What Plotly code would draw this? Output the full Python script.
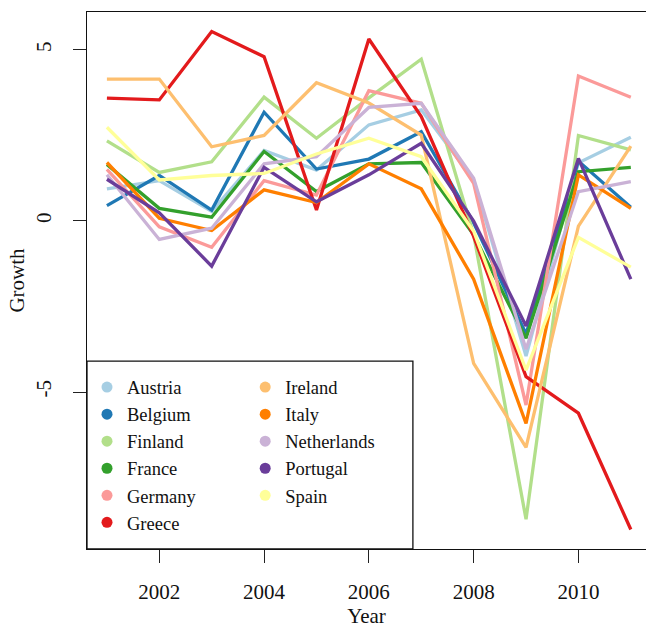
import plotly.graph_objects as go

years = list(range(2001, 2012))
countries = ["Austria", "Belgium", "Finland", "France", "Germany", "Greece",
             "Ireland", "Italy", "Netherlands", "Portugal", "Spain"]
colors = ["#A6CEE3", "#1F78B4", "#B2DF8A", "#33A02C", "#FB9A99", "#E31A1C",
          "#FDBF6F", "#FF7F00", "#CAB2D6", "#6A3D9A", "#FFFF99"]

austria = [0.94, 1.18, 0.28, 2.06, 1.49, 2.81, 3.25, 1.20, -3.95, 1.70, 2.45]
belgium = [0.45, 1.33, 0.32, 3.18, 1.52, 1.81, 2.61, -0.05, -3.30, 1.75, 0.40]
finland = [2.34, 1.42, 1.73, 3.62, 2.42, 3.60, 4.73, -0.40, -8.72, 2.50, 2.08]
france = [1.65, 0.37, 0.11, 2.03, 0.86, 1.67, 1.71, -0.40, -3.43, 1.44, 1.57]
germany = [1.51, -0.17, -0.77, 1.18, 0.76, 3.81, 3.44, 1.10, -5.38, 4.24, 3.62]
greece = [3.59, 3.54, 5.54, 4.80, 0.32, 5.32, 3.05, -0.45, -4.55, -5.62, -9.02]
ireland = [4.15, 4.15, 2.17, 2.50, 4.04, 3.45, 2.51, -4.16, -6.62, -0.15, 2.19]
italy = [1.71, 0.08, -0.28, 0.91, 0.54, 1.67, 0.94, -1.70, -5.92, 1.35, 0.37]
netherlands = [1.35, -0.54, -0.21, 1.67, 1.88, 3.32, 3.44, 1.25, -3.75, 0.86, 1.15]
portugal = [1.22, 0.24, -1.32, 1.57, 0.56, 1.35, 2.27, 0.00, -3.07, 1.83, -1.70]
spain = [2.74, 1.20, 1.33, 1.39, 1.96, 2.42, 1.88, -0.30, -4.36, -0.48, -1.35]

series = [austria, belgium, finland, france, germany, greece,
          ireland, italy, netherlands, portugal, spain]

x_ticks = [2002, 2004, 2006, 2008, 2010]
y_ticks = [-5, 0, 5]

FONT = "Liberation Serif"

fig = go.Figure()
for name, col, vals in zip(countries, colors, series):
    fig.add_trace(go.Scatter(x=years, y=vals, mode="lines", name=name,
                             line=dict(color=col, width=3.3),
                             showlegend=False, hoverinfo="skip"))

for i, (name, col) in enumerate(zip(countries, colors)):
    fig.add_trace(go.Scatter(x=[None], y=[None], mode="markers", name=name,
                             marker=dict(color=col, size=11),
                             legend="legend" if i < 6 else "legend2"))

fig.update_layout(
    width=646, height=628,
    margin=dict(l=87, r=0, t=12, b=79, autoexpand=False),
    paper_bgcolor="white", plot_bgcolor="white",
    font=dict(family=FONT, size=21, color="#111"),
    xaxis=dict(range=[2000.62, 2011.29], tickvals=x_ticks, ticks="outside",
               ticklen=13, tickwidth=1.3, tickcolor="#222", showgrid=False,
               zeroline=False, showline=True, linecolor="#111", linewidth=1.3,
               mirror=True, ticklabelstandoff=11, automargin=False,
               title=dict(text="Year", standoff=2, font=dict(size=21))),
    yaxis=dict(range=[-9.59, 6.11], tickvals=y_ticks, ticktext=["-5", "0", "5"],
               ticks="outside", ticklen=13, tickwidth=1.3, tickcolor="#222",
               showgrid=False, zeroline=False, showline=True, linecolor="#111",
               linewidth=1.3, tickangle=-90, ticklabelstandoff=13,
               automargin=False,
               title=dict(text="Growth", standoff=2, font=dict(size=21))),
    legend=dict(x=0, y=0.336, xanchor="left", yanchor="top",
                bgcolor="rgba(0,0,0,0)", borderwidth=0, tracegroupgap=0,
                font=dict(family=FONT, size=18.5), itemclick=False),
    legend2=dict(x=0.283, y=0.336, xanchor="left", yanchor="top",
                 bgcolor="rgba(0,0,0,0)", borderwidth=0, tracegroupgap=0,
                 font=dict(family=FONT, size=18.5), itemclick=False),
    shapes=[dict(type="rect", xref="paper", yref="paper", x0=0, x1=0.583,
                 y0=0, y1=0.350, line=dict(color="#111", width=1.3),
                 fillcolor="white", layer="below")],
)

fig.write_html("out.html", config={"displayModeBar": False},
               post_script="document.body.style.margin='0';document.body.style.padding='0';")
